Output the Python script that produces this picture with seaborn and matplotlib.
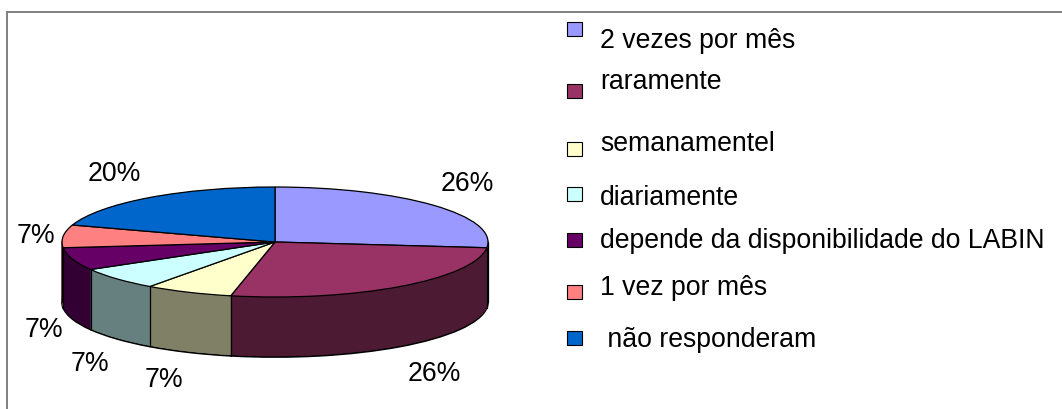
import numpy as np
import matplotlib
matplotlib.use("Agg")
import matplotlib.pyplot as plt
from matplotlib.patches import Rectangle
from matplotlib.lines import Line2D
import seaborn as sns

categories = ["2 vezes por mês", "raramente", "semanamentel", "diariamente",
              "depende da disponibilidade do LABIN", "1 vez por mês", " não responderam"]
counts = [4, 4, 1, 1, 1, 1, 3]
percent_labels = ["26%", "26%", "7%", "7%", "7%", "7%", "20%"]
colors = ["#9999FF", "#993366", "#FFFFCC", "#CCFFFF", "#660066", "#FF8080", "#0066CC"]

W, H = 1062, 410
CX, CY, RX, RY, DEPTH = 275, 243, 213, 55, 60

label_anchor_px = [(441, 191), (408, 381), (145, 387), (71, 371), (25, 337), (17, 243), (88, 181)]
legend_box_top_px = [23, 85, 143, 188, 234, 286, 332]
legend_baseline_px = [48, 89, 151, 205, 248, 295, 347]

sns.set_theme(style="white")
plt.rcParams["font.family"] = ["Liberation Sans", "DejaVu Sans"]
palette = sns.color_palette(colors)
side_palette = [tuple(0.5 * c for c in col) for col in palette]

fig = plt.figure(figsize=(W / 100, H / 100), dpi=100, facecolor="white")
ax = fig.add_axes([0, 0, 1, 1])
pie_kw = dict(startangle=90, counterclock=False, radius=1)
d_unit = 1 / RY

# extruded side: stacked copies of the pie from the bottom up
ax.pie(counts, colors=side_palette, center=(0, -DEPTH * d_unit),
       wedgeprops=dict(edgecolor="black", linewidth=1.3, zorder=1), **pie_kw)
for d in np.arange(DEPTH - 1, 0, -0.5):
    wedges, _ = ax.pie(counts, colors=side_palette, center=(0, -d * d_unit),
                       wedgeprops=dict(linewidth=0.4, zorder=1), **pie_kw)
    for w, c in zip(wedges, side_palette):
        w.set_edgecolor(c)

# edges on the front of the side wall, at the slice boundaries
bounds = 90 - 360 * np.cumsum(counts) / np.sum(counts)
front = [a for a in bounds if np.sin(np.radians(a)) < 0] + [0, 180]
for a in front:
    x = np.cos(np.radians(a))
    y = np.sin(np.radians(a))
    ax.plot([x, x], [y, y - DEPTH * d_unit], color="black", lw=0.9, zorder=2)

# top face
ax.pie(counts, colors=palette, center=(0, 0),
       wedgeprops=dict(edgecolor="black", linewidth=0.9, zorder=3), **pie_kw)

ax.set_aspect("auto")
ax.set_xlim(-CX / RX, (W - CX) / RX)
ax.set_ylim((CY - H) / RY, CY / RY)
ax.set_axis_off()


def fx(px):
    return px / W


def fy(py):
    return 1 - py / H


for txt, (px, py) in zip(percent_labels, label_anchor_px):
    fig.text(fx(px), fy(py), txt, fontsize=19.2, color="black", ha="left", va="baseline")

for name, col, top, base in zip(categories, palette, legend_box_top_px, legend_baseline_px):
    fig.add_artist(Rectangle((fx(567), fy(top + 14)), 15 / W, 14 / H, facecolor=col,
                             edgecolor="black", linewidth=0.8, transform=fig.transFigure))
    fig.text(fx(600), fy(base), name, fontsize=19.2, color="black", ha="left", va="baseline")

# outer chart frame
fig.add_artist(Line2D([fx(7), fx(7)], [fy(13), 0], color="#808080", lw=1.4))
fig.add_artist(Line2D([fx(7), 1], [fy(13), fy(13)], color="#808080", lw=1.4))

fig.savefig("out.png", dpi=100, facecolor="white")
